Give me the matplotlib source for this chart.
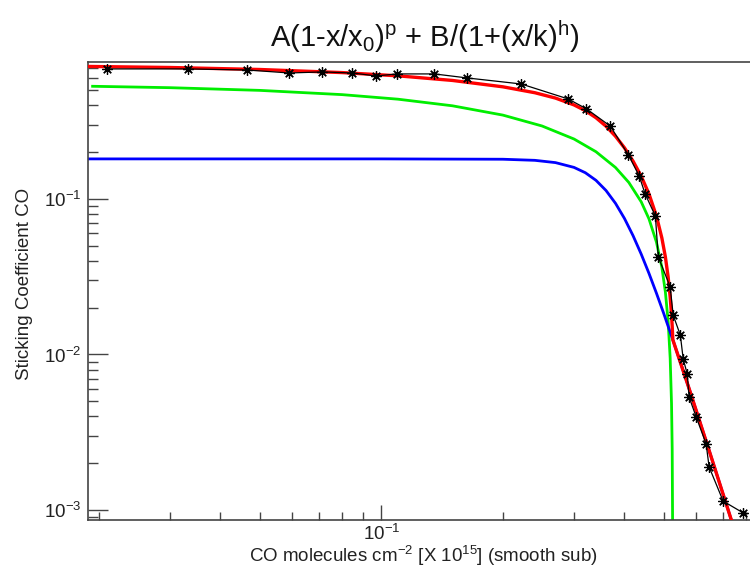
import matplotlib
matplotlib.use("Agg")
import matplotlib.pyplot as plt
from matplotlib.ticker import LogLocator, NullFormatter

plt.rcParams['font.family'] = ['Liberation Sans', 'DejaVu Sans']
plt.rcParams['mathtext.fontset'] = 'custom'
plt.rcParams['mathtext.rm'] = 'Liberation Sans'
plt.rcParams['mathtext.it'] = 'Liberation Sans'
plt.rcParams['mathtext.default'] = 'regular'

# measured sticking coefficient (black stars)
data_x = [0.0210, 0.0333, 0.0466, 0.0592, 0.0714, 0.0848, 0.0972, 0.1095, 0.1353, 0.1633,
          0.222, 0.290, 0.322, 0.369, 0.409, 0.435, 0.450, 0.477, 0.485, 0.519,
          0.528, 0.550, 0.559, 0.572, 0.578, 0.602, 0.637, 0.648, 0.702, 0.787]
data_y = [0.686, 0.686, 0.675, 0.646, 0.656, 0.646, 0.618, 0.637, 0.637, 0.600,
          0.549, 0.440, 0.380, 0.294, 0.192, 0.1406, 0.1077, 0.0777, 0.0424, 0.0272,
          0.0179, 0.0133, 0.00935, 0.00749, 0.00533, 0.00396, 0.00266, 0.00189, 0.00114, 0.000957]

# total fit (red)
fit_x = [0.0188, 0.03, 0.05, 0.08, 0.11, 0.15, 0.20, 0.24, 0.27, 0.30,
         0.32, 0.34, 0.36, 0.38, 0.40, 0.42, 0.44, 0.46, 0.48, 0.495,
         0.505, 0.513, 0.519, 0.523, 0.525, 0.5265, 0.527, 0.53, 0.58, 0.65, 0.74]
fit_y = [0.7117, 0.7006, 0.6803, 0.6498, 0.6192, 0.5784, 0.5263, 0.4822, 0.4454, 0.4026,
         0.3697, 0.3331, 0.2938, 0.2532, 0.2132, 0.1752, 0.1401, 0.1076, 0.0775, 0.0561,
         0.0424, 0.0315, 0.0234, 0.0180, 0.01525, 0.0131, 0.01242, 0.01188, 0.00588, 0.002354, 0.00082]

# A(1-x/x0)^p term (green)
green_x = [0.0193, 0.03, 0.05, 0.08, 0.11, 0.15, 0.20, 0.25, 0.30, 0.34,
           0.38, 0.41, 0.44, 0.46, 0.48, 0.495, 0.505, 0.513, 0.519, 0.523,
           0.525, 0.5265]
green_y = [0.5305, 0.5196, 0.4993, 0.4688, 0.4382, 0.3974, 0.3462, 0.2947, 0.2430, 0.2013,
           0.1594, 0.1277, 0.0959, 0.0744, 0.0527, 0.0363, 0.02524, 0.0163, 0.00947, 0.00484,
           0.00247, 0.000644]

# B/(1+(x/k)^h) term (blue)
blue_x = [0.0188, 0.10, 0.20, 0.24, 0.27, 0.30, 0.32, 0.34, 0.36, 0.38,
          0.40, 0.42, 0.44, 0.46, 0.48, 0.50, 0.53, 0.58, 0.65, 0.74]
blue_y = [0.181, 0.181, 0.1801, 0.1772, 0.1713, 0.1596, 0.1475, 0.1318, 0.1134, 0.0938,
          0.0749, 0.0581, 0.0442, 0.0332, 0.02475, 0.01843, 0.01188, 0.00588, 0.002354, 0.00082]

fig = plt.figure(figsize=(7.5, 5.67), dpi=100)
ax = fig.add_axes([88 / 750, 1 - 520 / 567, 662 / 750, 458 / 567])

ax.plot(green_x, green_y, color='#00ee00', lw=2.0, zorder=2)
ax.plot(blue_x, blue_y, color='#0000ff', lw=2.0, zorder=2)
ax.plot(fit_x, fit_y, color='#ff0000', lw=2.4, zorder=3)
ax.plot(data_x, data_y, color='black', lw=0.9, marker=(8, 2, 0), ms=7.5, mew=0.9, zorder=4)

ax.set_xscale('log')
ax.set_yscale('log')
ax.set_xlim(0.0188, 0.818)
ax.set_ylim(8.62e-4, 0.76)

ax.spines['right'].set_visible(False)
for s in ['left', 'bottom', 'top']:
    ax.spines[s].set_color('#444444')
    ax.spines[s].set_linewidth(1.2)

ax.xaxis.set_minor_locator(LogLocator(base=10, subs=range(2, 10)))
ax.yaxis.set_minor_locator(LogLocator(base=10, subs=range(2, 10)))
ax.xaxis.set_minor_formatter(NullFormatter())
ax.yaxis.set_minor_formatter(NullFormatter())

ax.tick_params(axis='y', which='major', direction='in', length=14.4, width=1.0, color='#444444',
               labelsize=13.5, pad=4.5, labelcolor='#222222')
ax.tick_params(axis='y', which='minor', direction='in', length=7.2, width=1.0, color='#444444')
ax.tick_params(axis='x', which='major', direction='in', length=10.8, width=1.0, color='#444444',
               labelsize=13.5, pad=3, labelcolor='#222222')
ax.tick_params(axis='x', which='minor', direction='in', length=5.8, width=1.0, color='#444444')

ax.set_ylabel('Sticking Coefficient CO', fontsize=13.5, color='#222222')
ax.yaxis.set_label_coords(-0.083, 0.515)
ax.set_xlabel('CO molecules cm$^{-2}$ [X 10$^{15}$] (smooth sub)', fontsize=13.5, color='#222222')
ax.xaxis.set_label_coords(0.507, -0.053)

fig.text(425 / 750, 1 - 47 / 567, 'A(1-x/x$_0$)$^p$ + B/(1+(x/k)$^h$)',
         ha='center', va='baseline', fontsize=21, color='#111111')

fig.savefig('out.png', dpi=100)
